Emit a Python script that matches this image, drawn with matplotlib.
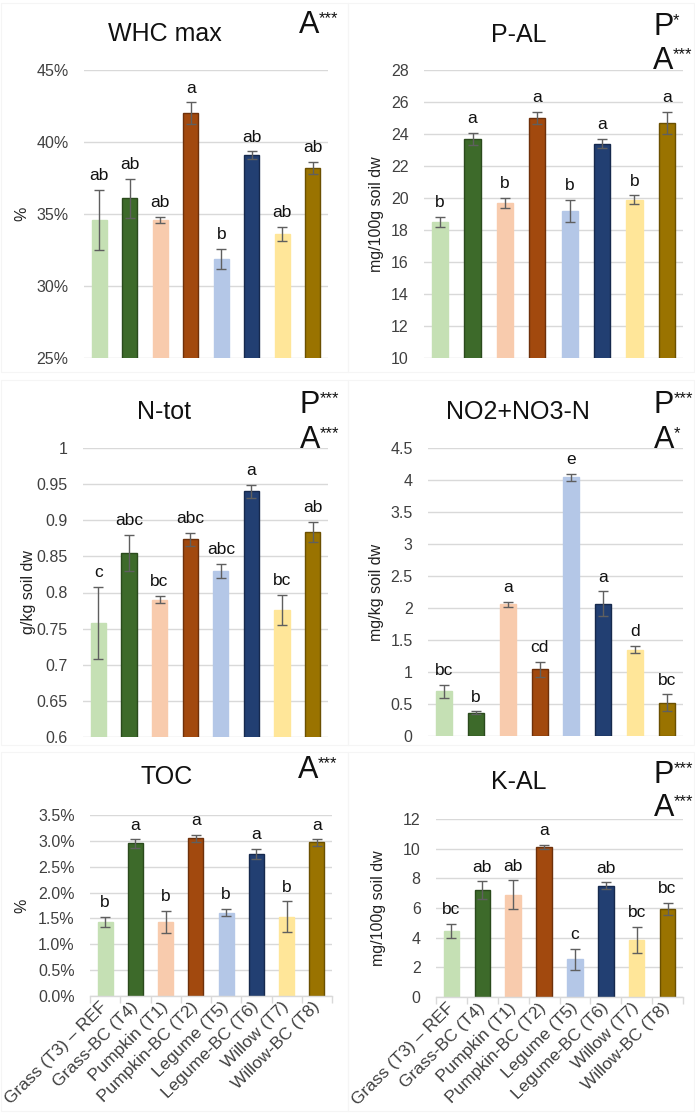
import matplotlib
matplotlib.use("Agg")
import matplotlib.pyplot as plt
import numpy as np

plt.rcParams['font.family'] = ['Liberation Sans', 'DejaVu Sans']

# Datos
labels = ["Grass (T3) – REF", "Grass-BC (T4)", "Pumpkin (T1)", "Pumpkin-BC (T2)",
          "Legume (T5)", "Legume-BC (T6)", "Willow (T7)", "Willow-BC (T8)"]

whc = [34.6, 36.1, 34.6, 42.0, 31.9, 39.1, 33.6, 38.2]
whc_err = [2.1, 1.35, 0.2, 0.75, 0.7, 0.25, 0.5, 0.4]
whc_let = ["ab", "ab", "ab", "a", "b", "ab", "ab", "ab"]

pal = [18.5, 23.7, 19.7, 25.0, 19.2, 23.4, 19.9, 24.7]
pal_err = [0.3, 0.37, 0.33, 0.4, 0.67, 0.3, 0.27, 0.68]
pal_let = ["b", "a", "b", "a", "b", "a", "b", "a"]

ntot = [0.758, 0.855, 0.790, 0.874, 0.830, 0.940, 0.776, 0.884]
ntot_err = [0.05, 0.025, 0.005, 0.009, 0.01, 0.009, 0.021, 0.014]
ntot_let = ["c", "abc", "bc", "abc", "abc", "a", "bc", "ab"]

no3 = [0.70, 0.365, 2.06, 1.04, 4.04, 2.07, 1.35, 0.52]
no3_err = [0.1, 0.02, 0.04, 0.12, 0.06, 0.19, 0.06, 0.13]
no3_let = ["bc", "b", "a", "cd", "e", "a", "d", "bc"]

toc = [1.43, 2.95, 1.43, 3.05, 1.61, 2.74, 1.53, 2.97]
toc_err = [0.1, 0.08, 0.22, 0.07, 0.07, 0.1, 0.3, 0.06]
toc_let = ["b", "a", "b", "a", "b", "a", "b", "a"]

kal = [4.46, 7.22, 6.91, 10.1, 2.53, 7.51, 3.84, 5.92]
kal_err = [0.45, 0.58, 0.96, 0.15, 0.7, 0.22, 0.87, 0.42]
kal_let = ["bc", "ab", "ab", "a", "c", "ab", "bc", "bc"]

colors = ['#c5e0b4', '#3d6a2a', '#f8cbad', '#a2490e',
          '#b4c7e7', '#223f72', '#ffe699', '#9a7300']
edges = ['#c5e0b4', '#2a4a1c', '#f8cbad', '#6e300a',
         '#b4c7e7', '#16294d', '#ffe699', '#6b5000']

W, H = 695, 1113
fig = plt.figure(figsize=(W / 100, H / 100), dpi=100)


def fx(x):
    return x / W


def fy(y):
    return 1 - y / H


# marcos muy suaves de cada grafico (como en Excel)
for (x0, y0, x1, y1) in [(1, 3, 348, 372), (348, 3, 694, 372),
                         (1, 380, 348, 745), (348, 380, 694, 745),
                         (1, 752, 348, 1111), (348, 752, 694, 1111)]:
    fig.patches.append(plt.Rectangle((fx(x0), fy(y1)), fx(x1 - x0), (y1 - y0) / H,
                                     transform=fig.transFigure, fill=False,
                                     edgecolor='#f5f5f5', lw=0.8))


def panel(box, vals, errs, lets, ylim, step, fmt, title, title_xy, ylabel, ylab_x,
          sig, show_x=False):
    x0, y0, x1, y1 = box
    ax = fig.add_axes([fx(x0), fy(y1), fx(x1 - x0), (y1 - y0) / H])
    x = np.arange(len(vals))
    ax.set_axisbelow(True)
    ax.bar(x, vals, width=0.5, color=colors, edgecolor=edges, linewidth=1.0, zorder=2)
    ax.errorbar(x, vals, yerr=errs, fmt='none', ecolor='#5f5f5f', elinewidth=1.0,
                capsize=3.5, capthick=1.0, zorder=3)
    for xi, v, e, t in zip(x, vals, errs, lets):
        ax.annotate(t, (xi, v + e), xytext=(0, 7), textcoords='offset points',
                    ha='center', va='baseline', fontsize=12.5, color='#111111')
    ax.set_xlim(-0.5, len(vals) - 0.5)
    ax.set_ylim(*ylim)
    ticks = np.arange(ylim[0], ylim[1] + step / 2, step)
    ax.set_yticks(ticks)
    ax.set_yticklabels([fmt(t) for t in ticks])
    ax.yaxis.grid(True, color='#d9d9d9', lw=1.0)
    for s in ['top', 'right', 'left']:
        ax.spines[s].set_visible(False)
    ax.tick_params(axis='y', length=0, pad=11, labelsize=11.5, labelcolor='#404040')
    if show_x:
        ax.spines['bottom'].set_color('#d9d9d9')
        ax.spines['bottom'].set_linewidth(1.0)
        ax.set_xticks(x)
        ax.set_xticklabels(labels, rotation=45, ha='right', va='center',
                           rotation_mode='anchor', fontsize=12.5, color='#404040')
        ax.set_xticks(np.arange(-0.5, len(vals)), minor=True)
        ax.tick_params(axis='x', which='major', length=0, pad=6)
        ax.tick_params(axis='x', which='minor', length=5, color='#d9d9d9', width=1.0)
    else:
        ax.spines['bottom'].set_visible(False)
        ax.set_xticks([])
    fig.text(fx(title_xy[0]), fy(title_xy[1]), title, ha='center', va='center',
             fontsize=18, color='#111111')
    fig.text(fx(ylab_x), fy((y0 + y1) / 2), ylabel, rotation=90, ha='center',
             va='center', fontsize=11.5, color='#222222')
    for (lx, ly, letter, stars) in sig:
        fig.text(fx(lx), fy(ly), letter, ha='left', va='center', fontsize=22,
                 color='#111111')
        fig.text(fx(lx + 20), fy(ly - 6), stars, ha='left', va='center',
                 fontsize=12, color='#111111')
    return ax


pct0 = lambda t: f"{t:.0f}%"
gen = lambda t: f"{round(t, 2):g}"
pct1 = lambda t: f"{t:.1f}%"

panel((84, 70, 328, 358), whc, whc_err, whc_let, (25, 45), 5, pct0,
      "WHC max", (165, 34), "%", 22, [(299, 25, "A", "***")])
panel((424, 70, 683, 358), pal, pal_err, pal_let, (10, 28), 2, gen,
      "P-AL", (519, 35), "mg/100g soil dw", 377,
      [(653, 27, "P", "*"), (653, 61, "A", "***")])
panel((83, 448, 328, 737), ntot, ntot_err, ntot_let, (0.6, 1.0), 0.05, gen,
      "N-tot", (164, 412), "g/kg soil dw", 29,
      [(300, 405, "P", "***"), (300, 440, "A", "***")])
panel((428, 448, 683, 736), no3, no3_err, no3_let, (0, 4.5), 0.5, gen,
      "NO2+NO3-N", (518, 412), "mg/kg soil dw", 377,
      [(654, 405, "P", "***"), (654, 440, "A", "*")])
panel((90, 815, 332, 996), toc, toc_err, toc_let, (0, 3.5), 0.5, pct1,
      "TOC", (167, 777), "%", 22, [(298, 770, "A", "***")], show_x=True)
panel((436, 819, 683, 997), kal, kal_err, kal_let, (0, 12), 2, gen,
      "K-AL", (519, 782), "mg/100g soil dw", 378,
      [(654, 775, "P", "***"), (654, 808, "A", "***")], show_x=True)

fig.savefig("out.png", dpi=100, facecolor='white')
